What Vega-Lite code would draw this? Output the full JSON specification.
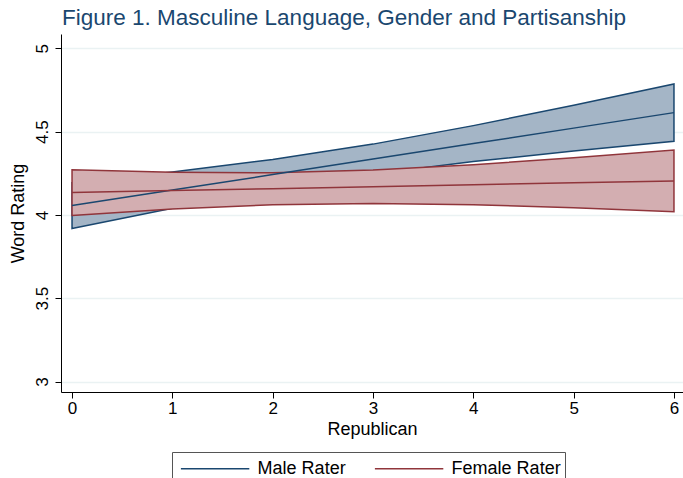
{
  "$schema": "https://vega.github.io/schema/vega-lite/v6.json",
  "width": 622,
  "height": 358,
  "autosize": "none",
  "padding": {"left": 61, "top": 34, "right": 0, "bottom": 86},
  "background": "white",
  "config": {"view": {"stroke": null}, "font": "Liberation Sans"},
  "title": {
    "text": "Figure 1. Masculine Language, Gender and Partisanship",
    "anchor": "start",
    "frame": "group",
    "fontSize": 22.5,
    "fontWeight": "normal",
    "font": "Liberation Sans",
    "color": "#1a476f",
    "offset": 5,
    "dx": 1
  },
  "data": {
    "values": [
      {"x": 0, "group": "Male Rater", "lo": 3.918, "mid": 4.056, "hi": 4.194},
      {"x": 1, "group": "Male Rater", "lo": 4.040, "mid": 4.149, "hi": 4.258},
      {"x": 2, "group": "Male Rater", "lo": 4.151, "mid": 4.242, "hi": 4.333},
      {"x": 3, "group": "Male Rater", "lo": 4.245, "mid": 4.335, "hi": 4.425},
      {"x": 4, "group": "Male Rater", "lo": 4.320, "mid": 4.428, "hi": 4.536},
      {"x": 5, "group": "Male Rater", "lo": 4.384, "mid": 4.521, "hi": 4.658},
      {"x": 6, "group": "Male Rater", "lo": 4.442, "mid": 4.614, "hi": 4.786},
      {"x": 0, "group": "Female Rater", "lo": 3.997, "mid": 4.134, "hi": 4.271},
      {"x": 1, "group": "Female Rater", "lo": 4.036, "mid": 4.146, "hi": 4.256},
      {"x": 2, "group": "Female Rater", "lo": 4.061, "mid": 4.157, "hi": 4.253},
      {"x": 3, "group": "Female Rater", "lo": 4.069, "mid": 4.169, "hi": 4.269},
      {"x": 4, "group": "Female Rater", "lo": 4.061, "mid": 4.181, "hi": 4.301},
      {"x": 5, "group": "Female Rater", "lo": 4.043, "mid": 4.193, "hi": 4.343},
      {"x": 6, "group": "Female Rater", "lo": 4.019, "mid": 4.204, "hi": 4.389}
    ]
  },
  "encoding": {
    "x": {
      "field": "x",
      "type": "quantitative",
      "scale": {"domain": [-0.11, 6.09], "nice": false, "zero": false},
      "axis": {
        "values": [0, 1, 2, 3, 4, 5, 6],
        "title": "Republican",
        "titleFontSize": 18,
        "titleFontWeight": "normal",
        "titleColor": "black",
        "titlePadding": 4,
        "labelFontSize": 17,
        "labelColor": "black",
        "labelPadding": 2,
        "labelFlush": false,
        "domainColor": "black",
        "tickColor": "black",
        "tickSize": 6,
        "grid": false
      }
    }
  },
  "layer": [
    {
      "transform": [{"filter": "datum.group === 'Male Rater'"}],
      "mark": {"type": "area", "fill": "#a4b5c6", "stroke": "#1a476f", "strokeWidth": 1.5, "opacity": 1},
      "encoding": {
        "y": {
          "field": "lo",
          "type": "quantitative",
          "scale": {"domain": [2.937, 5.086], "nice": false, "zero": false},
          "axis": {
            "values": [3, 3.5, 4, 4.5, 5],
            "format": "~g",
            "title": "Word Rating",
            "titleFontSize": 18,
            "titleFontWeight": "normal",
            "titleColor": "black",
            "titlePadding": 6,
            "labelAngle": -90,
            "labelFontSize": 17,
            "labelColor": "black",
            "labelPadding": 4,
            "labelFlush": false,
            "domainColor": "black",
            "tickColor": "black",
            "tickSize": 6,
            "grid": true,
            "gridColor": "#eaf2f3",
            "gridWidth": 1.5
          }
        },
        "y2": {"field": "hi"}
      }
    },
    {
      "transform": [{"filter": "datum.group === 'Female Rater'"}],
      "mark": {"type": "area", "fill": "#d3aeb1", "stroke": "#90353b", "strokeWidth": 1.5, "opacity": 1},
      "encoding": {
        "y": {"field": "lo", "type": "quantitative"},
        "y2": {"field": "hi"}
      }
    },
    {
      "mark": {"type": "line", "strokeWidth": 1.5},
      "encoding": {
        "y": {"field": "mid", "type": "quantitative"},
        "color": {
          "field": "group",
          "type": "nominal",
          "scale": {"domain": ["Male Rater", "Female Rater"], "range": ["#1a476f", "#90353b"]},
          "legend": {
            "orient": "none",
            "legendX": 111,
            "legendY": 418,
            "direction": "horizontal",
            "title": null,
            "symbolType": "M-3,0H3",
            "symbolSize": 520,
            "symbolStrokeWidth": 1.5,
            "symbolOffset": 26.6,
            "labelFontSize": 18,
            "labelFont": "Liberation Sans",
            "labelColor": "black",
            "labelOffset": 30,
            "labelLimit": 200,
            "columnPadding": 24,
            "padding": 4,
            "strokeColor": "#555555"
          }
        }
      }
    }
  ]
}
